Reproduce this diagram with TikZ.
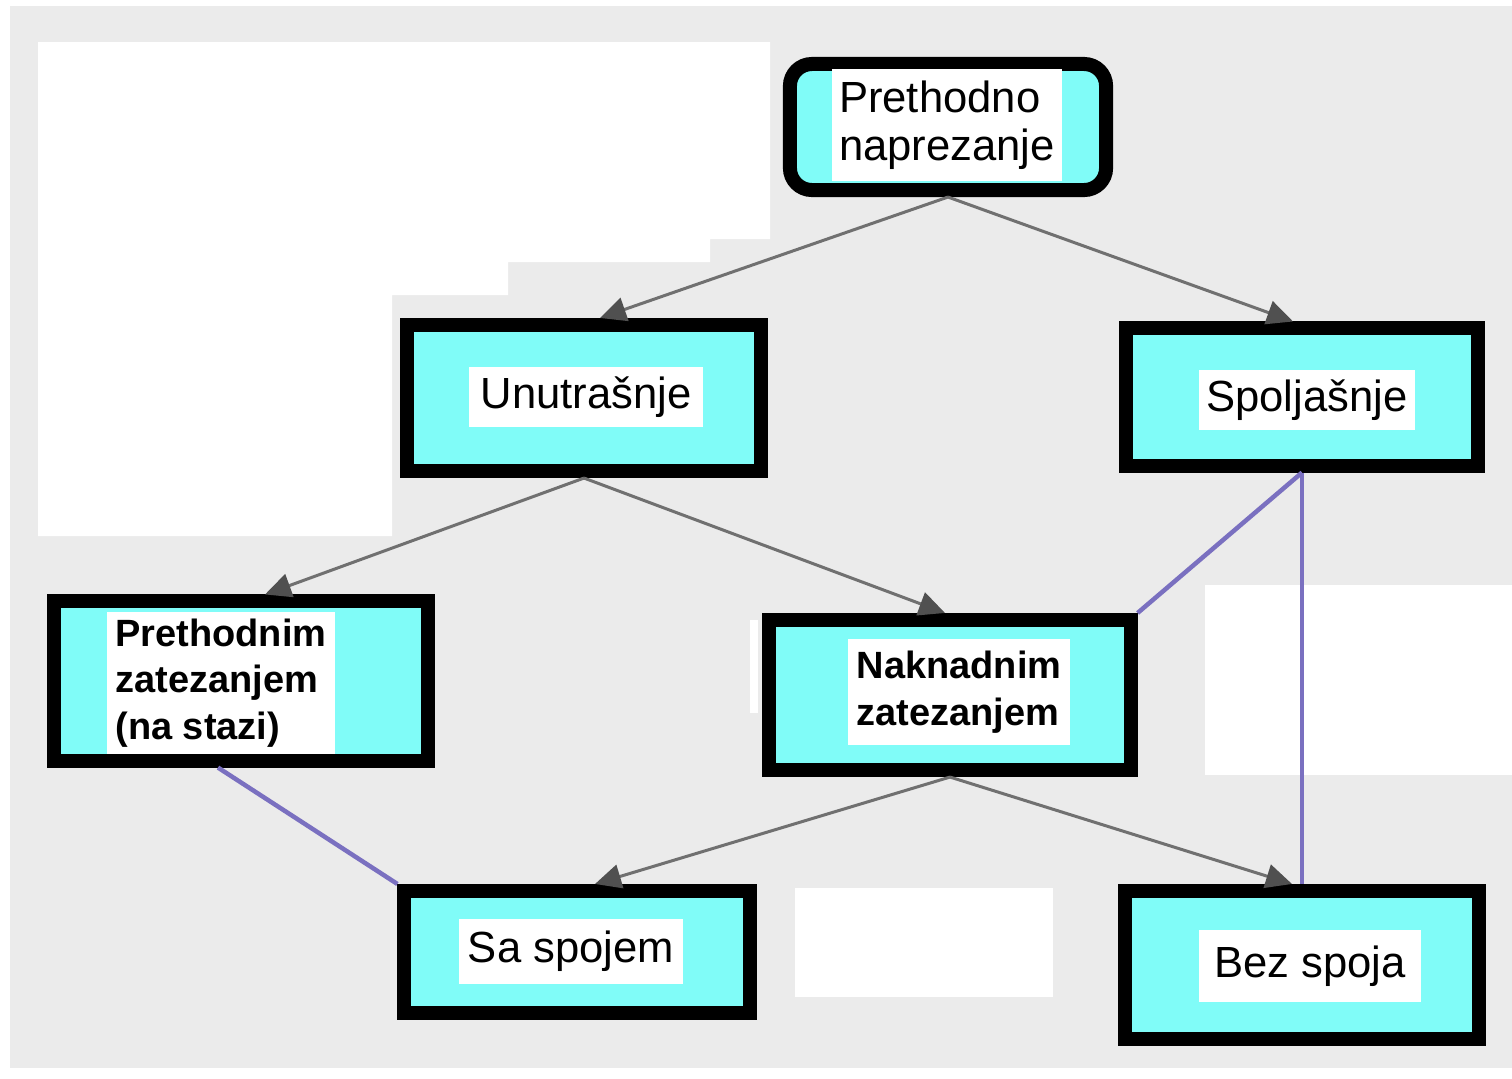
\documentclass[tikz,border=0pt]{standalone}
\usepackage{fontspec}
\setmainfont{Liberation Sans}
\usetikzlibrary{arrows.meta}

\definecolor{bgcol}{RGB}{235,235,235}
\definecolor{boxcyan}{RGB}{128,252,248}
\definecolor{linegray}{RGB}{112,112,112}
\definecolor{headgray}{RGB}{80,80,80}
\definecolor{linkpurple}{RGB}{122,112,192}

\tikzset{
  box/.style={draw=black, line width=0.14cm, fill=boxcyan, inner sep=0pt},
  lbl/.style={fill=white, inner sep=0pt, align=left, font=\fontsize{12.4}{13.7}\selectfont},
  lblb/.style={lbl, font=\fontsize{10.8}{13.2}\selectfont\bfseries},
  arr/.style={draw=linegray, line width=0.03cm, -{Triangle[length=0.26cm,width=0.24cm,color=headgray]}},
  link/.style={draw=linkpurple, line width=0.045cm},
}

\begin{document}
\begin{tikzpicture}[x=0.01cm, y=-0.01cm]

\useasboundingbox (0,0) rectangle (1512,1078);
\fill [white] (0,0) rectangle (1512,1078);
\fill [bgcol] (10,6) rectangle (1512,1068);

\fill [white] (38,42) -- (770,42) -- (770,239) -- (710,239) -- (710,262) -- (508,262)
  -- (508,295) -- (392,295) -- (392,536) -- (38,536) -- cycle;
\fill [white] (1205,585) rectangle (1512,775);
\fill [white] (795,888) rectangle (1053,997);
\fill [white] (750,620) rectangle (758,713);

\node [box, rounded corners=0.22cm, minimum width=3.16cm, minimum height=1.26cm] (pn) at (948,127) {};
\node [lbl, minimum width=2.30cm, minimum height=1.12cm] (pn-t) at (947,125) {Prethodno\\naprezanje};

\node [box, minimum width=3.54cm, minimum height=1.46cm] (unu) at (584,398) {};
\node [lbl, minimum width=2.33cm, minimum height=0.59cm] (unu-t) at (586,397) {Unutrašnje};

\node [box, minimum width=3.51cm, minimum height=1.37cm] (spo) at (1302,397) {};
\node [lbl, minimum width=2.15cm, minimum height=0.60cm] (spo-t) at (1307,400) {Spoljašnje};

\node [box, minimum width=3.74cm, minimum height=1.59cm] (pz) at (241,681) {};
\node [lblb, minimum width=2.28cm, minimum height=1.42cm] (pz-t) at (221,683) {Prethodnim\\zatezanjem\\(na stazi)};

\node [box, minimum width=3.61cm, minimum height=1.50cm] (nak) at (950,695) {};
\node [lblb, minimum width=2.22cm, minimum height=1.06cm] (nak-t) at (959,692) {Naknadnim\\zatezanjem};

\node [box, minimum width=3.45cm, minimum height=1.22cm] (sa) at (577,952) {};
\node [lbl, minimum width=2.23cm, minimum height=0.65cm] (sa-t) at (571,951) {Sa spojem};

\node [box, minimum width=3.53cm, minimum height=1.48cm] (bez) at (1302,965) {};
\node [lbl, minimum width=2.22cm, minimum height=0.72cm] (bez-t) at (1310,966) {Bez spoja};

\draw [arr] (pn.south) -- ([xshift=0.16cm]unu.north);
\draw [arr] (pn.south) -- ([xshift=-0.09cm]spo.north);
\draw [arr] (unu.south) -- ([xshift=0.24cm]pz.north);
\draw [arr] (unu.south) -- ([xshift=-0.05cm]nak.north);
\draw [arr] (nak.south) -- ([xshift=0.18cm]sa.north);
\draw [arr] (nak.south) -- ([xshift=-0.10cm]bez.north);

\draw [link] ([xshift=-0.23cm]pz.south) -- (sa.north west);
\draw [link] (spo.south) -- (nak.north east);
\draw [link, line width=0.04cm] (spo.south) -- (bez.north);

\end{tikzpicture}
\end{document}
